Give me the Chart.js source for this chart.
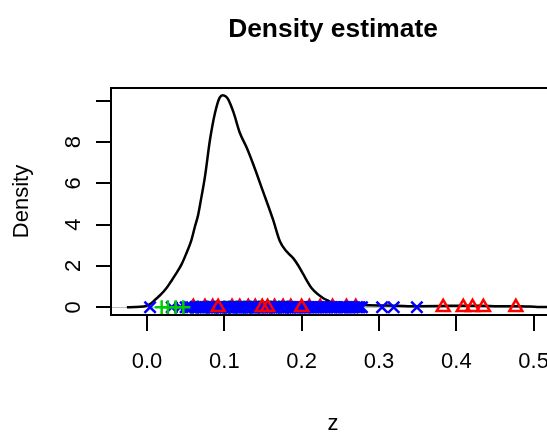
<!DOCTYPE html>
<html><head><meta charset="utf-8">
<script src="https://cdn.jsdelivr.net/npm/chart.js@4"></script>
<style>html,body{margin:0;padding:0;overflow:hidden;background:#fff}canvas{display:block}</style>
</head><body>
<canvas id="c" width="570" height="432"></canvas>
<script>
// ---- data ----
const densityX = [-0.026,-0.015,-0.005,0.0,0.005,0.010,0.018,0.025,0.031,0.038,0.045,0.051,0.057,0.062,0.066,0.069,0.075,0.0815,0.088,0.094,0.098,0.102,0.105,0.112,0.120,0.129,0.1375,0.150,0.163,0.172,0.180,0.189,0.196,0.202,0.213,0.222,0.228,0.235,0.241,0.250,0.262,0.276,0.300,0.320,0.350,0.380,0.410,0.430,0.455,0.480,0.505,0.528];
const densityY = [0.0,0.01,0.04,0.08,0.18,0.35,0.62,0.92,1.25,1.65,2.1,2.62,3.2,3.91,4.45,5.05,6.34,8.12,9.42,10.15,10.26,10.2,10.06,9.42,8.45,7.72,6.91,5.61,4.24,3.18,2.72,2.38,2.0,1.6,0.92,0.6,0.44,0.3,0.19,0.14,0.12,0.11,0.09,0.08,0.05,0.06,0.08,0.08,0.05,0.05,0.02,0.005];

const blueCrossX = [0.004,0.032,0.043,0.050,0.054,0.058,0.063,0.066,0.069,0.071,0.073,0.075,0.077,0.079,0.081,0.083,0.084,0.086,0.087,0.089,0.091,0.093,0.094,0.096,0.097,0.099,0.101,0.102,0.104,0.106,0.107,0.108,0.109,0.111,0.113,0.114,0.116,0.118,0.119,0.121,0.122,0.124,0.126,0.127,0.128,0.130,0.131,0.133,0.135,0.136,0.138,0.139,0.141,0.143,0.144,0.146,0.147,0.149,0.150,0.152,0.154,0.156,0.157,0.159,0.161,0.162,0.164,0.165,0.167,0.168,0.170,0.171,0.173,0.174,0.176,0.177,0.179,0.180,0.182,0.183,0.185,0.186,0.188,0.189,0.191,0.192,0.194,0.195,0.197,0.198,0.200,0.202,0.204,0.205,0.207,0.209,0.211,0.213,0.215,0.216,0.218,0.220,0.222,0.224,0.226,0.228,0.230,0.232,0.234,0.237,0.239,0.242,0.244,0.246,0.249,0.251,0.253,0.255,0.257,0.259,0.262,0.264,0.266,0.268,0.271,0.273,0.275,0.278,0.304,0.319,0.349];
const redTriangleUnderX = [0.060,0.075,0.085,0.110,0.120,0.131,0.140,0.165,0.176,0.186,0.210,0.224,0.240,0.258,0.270];
const redTriangleX = [0.092,0.149,0.156,0.200,0.383,0.409,0.421,0.435,0.477];
const greenPlusUnderX = [0.058,0.066,0.078,0.090,0.100,0.106,0.116,0.126,0.134,0.145,0.160,0.171,0.182];
const greenPlusX = [0.019,0.027,0.037,0.047];

const xTicks = [0, 0.1, 0.2, 0.3, 0.4, 0.5];
const xTickLabels = ['0.0','0.1','0.2','0.3','0.4','0.5'];
const yTicks = [0, 2, 4, 6, 8, 10];
const yTickLabels = ['0','2','4','6','8',''];
const titleText = 'Density estimate';
const xTitle = 'z';
const yTitle = 'Density';

// ---- styling ----
const FONT = '"Liberation Sans", Arial, Helvetica, sans-serif';
const BLUE = '#0000ff', RED = '#ff0000', GREEN = '#00cd00';
const LW = 2.5;

const rug = arr => arr.map(v => ({x: v, y: 0}));
const curve = densityX.map((x, i) => ({x, y: densityY[i]}));

const rStylePlugin = {
  id: 'rStyle',
  beforeDatasetsDraw(chart) {
    const {ctx, chartArea: a, scales: {y}} = chart;
    ctx.save();
    ctx.strokeStyle = '#bebebe';
    ctx.lineWidth = 1;
    const y0 = Math.round(y.getPixelForValue(0)) + 0.5;
    ctx.beginPath(); ctx.moveTo(a.left, y0); ctx.lineTo(a.right, y0); ctx.stroke();
    ctx.restore();
  },
  afterDraw(chart) {
    const {ctx, chartArea: a, scales: {x, y}} = chart;
    ctx.save();
    ctx.strokeStyle = '#000';
    ctx.lineWidth = 2;
    ctx.strokeRect(a.left, a.top, a.right - a.left, a.bottom - a.top);
    ctx.beginPath();
    xTicks.forEach(v => {
      const px = Math.round(x.getPixelForValue(v));
      ctx.moveTo(px, a.bottom); ctx.lineTo(px, a.bottom + 16);
    });
    yTicks.forEach(v => {
      const py = Math.round(y.getPixelForValue(v));
      ctx.moveTo(a.left, py); ctx.lineTo(a.left - 15, py);
    });
    ctx.stroke();
    ctx.fillStyle = '#000';
    ctx.textBaseline = 'alphabetic';
    ctx.textAlign = 'center';
    ctx.font = '22px ' + FONT;
    xTicks.forEach((v, i) => {
      ctx.fillText(xTickLabels[i], x.getPixelForValue(v), 368);
    });
    yTicks.forEach((v, i) => {
      if (!yTickLabels[i]) return;
      ctx.save();
      ctx.translate(80, y.getPixelForValue(v));
      ctx.rotate(-Math.PI / 2);
      ctx.fillText(yTickLabels[i], 0, 0);
      ctx.restore();
    });
    const cx = (a.left + a.right) / 2, cy = (a.top + a.bottom) / 2;
    ctx.fillText(xTitle, cx, 430);
    ctx.save();
    ctx.translate(27.5, cy);
    ctx.rotate(-Math.PI / 2);
    ctx.fillText(yTitle, 0, 0);
    ctx.restore();
    ctx.font = 'bold 26.4px ' + FONT;
    ctx.fillText(titleText, cx, 37);
    ctx.restore();
  }
};

new Chart(document.getElementById('c'), {
  type: 'scatter',
  data: {
    datasets: [
      {data: rug(greenPlusX), pointStyle: 'cross', pointRadius: 7, borderColor: GREEN, borderWidth: LW, backgroundColor: 'transparent'},
      {data: rug(redTriangleX), pointStyle: 'triangle', pointRadius: 7.5, borderColor: RED, borderWidth: LW, backgroundColor: 'transparent'},
      {data: rug(blueCrossX), pointStyle: 'crossRot', pointRadius: 8, borderColor: BLUE, borderWidth: LW, backgroundColor: 'transparent'},
      {data: rug(redTriangleUnderX), pointStyle: 'triangle', pointRadius: 7.5, borderColor: RED, borderWidth: LW, backgroundColor: 'transparent'},
      {data: rug(greenPlusUnderX), pointStyle: 'cross', pointRadius: 7, borderColor: GREEN, borderWidth: LW, backgroundColor: 'transparent'},
      {data: curve, showLine: true, pointRadius: 0, borderColor: '#000', borderWidth: 2.5, cubicInterpolationMode: 'monotone', fill: false}
    ]
  },
  options: {
    responsive: false,
    animation: false,
    devicePixelRatio: 1,
    layout: {padding: {left: 111, right: 15, top: 88, bottom: 117}},
    plugins: {legend: {display: false}, tooltip: {enabled: false}, title: {display: false}},
    scales: {
      x: {type: 'linear', display: false, min: -0.04655, max: 0.5276},
      y: {type: 'linear', display: false, min: -0.373, max: 10.615}
    }
  },
  plugins: [rStylePlugin]
});
</script>
</body></html>
